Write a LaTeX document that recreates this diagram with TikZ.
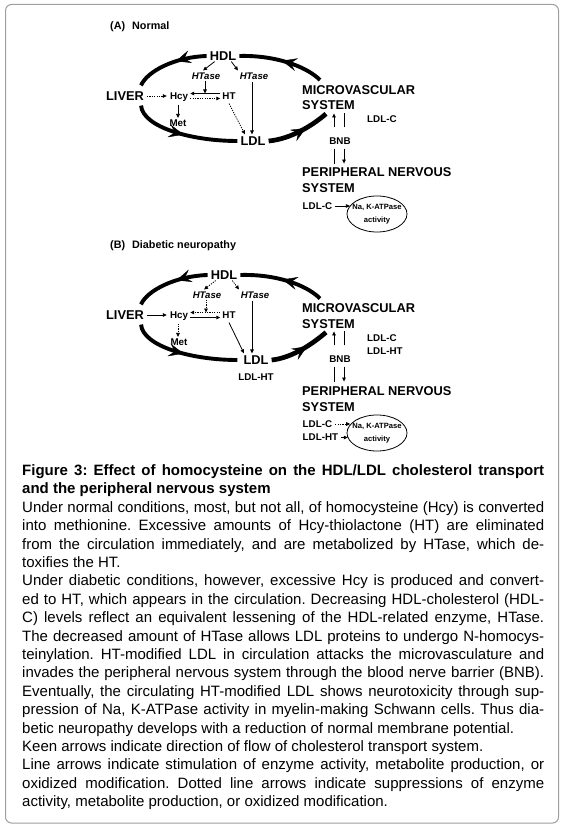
\documentclass[tikz,border=0pt]{standalone}
\usepackage{fontspec}
\setmainfont{Liberation Sans}
\usetikzlibrary{arrows.meta,decorations.markings,shapes.geometric,calc}
\newcommand\capj[1]{\hbox to 522pt{#1}}
\newcommand\capl[1]{\hbox{#1}}
\tikzset{
  big/.style={font=\fontsize{12.8}{15.5}\selectfont\bfseries, inner sep=0pt, text depth=0pt},
  mid/.style={font=\fontsize{9.8}{12.5}\selectfont\bfseries, inner sep=0pt, text depth=0pt},
  enz/.style={font=\fontsize{9.6}{12}\selectfont\bfseries\itshape, inner sep=0pt, text depth=0pt},
  ttl/.style={font=\fontsize{10.8}{12}\selectfont\bfseries, inner sep=0pt, anchor=west},
  nak/.style={ellipse, draw, line width=0.8pt, minimum width=60pt, minimum height=36pt, inner xsep=-8pt, inner ysep=0pt, align=center, font=\fontsize{7.6}{12.5}\selectfont\bfseries},
  ln/.style={-{Triangle[length=4pt,width=3.6pt]}, line width=0.8pt},
  dt/.style={ln, dash pattern=on 1.2pt off 1.2pt},
  plain/.style={line width=0.8pt},
  keen/.style={line width=3.9pt, postaction={decorate}, decoration={markings, mark=at position #1 with {\arrow{Stealth[length=15pt,width=13pt,inset=6pt,line width=0.4pt]}}}},
  keen/.default=0.5,
}
\begin{document}
\begin{tikzpicture}[x=1pt,y=-1pt]
\useasboundingbox (0,0) rectangle (564,832);
\draw[black!38, line width=1pt, rounded corners=6pt] (5.5,4.5) rectangle (558.5,823);

% ---------------- Panel A ----------------
\node[ttl] (tA) at (110,27) {(A)\hspace{4pt} Normal};
\node[big] (hdlA) at (223,56) {HDL};
\node[enz] (htlA) at (206,76) {HTase};
\node[enz] (htrA) at (254,76) {HTase};
\node[big] (livA) at (125,96) {LIVER};
\node[mid] (hcyA) at (179,96) {Hcy};
\node[mid] (htA) at (229,96) {HT};
\node[mid] (metA) at (178,123) {Met};
\node[big] (ldlA) at (253,141) {LDL};
\node[big, anchor=north west, align=left] (micA) at (302,85) {MICROVASCULAR\\SYSTEM};
\node[mid, anchor=west] (ldlcA) at (367,119) {LDL-C};
\node[mid] (bnbA) at (340,141) {BNB};
\node[big, anchor=north west, align=left] (pnsA) at (302,167.5) {PERIPHERAL NERVOUS\\SYSTEM};
\node[mid, anchor=west] (ldlc2A) at (302.5,206) {LDL-C};
\node[nak] (nakA) at (377,214) {Na, K-ATPase\\activity};

\draw[keen=0.42] ([shift={(-3,0)}]hdlA.west) .. controls +(-32,1) and +(6,-14) .. ([shift={(-3,-6)}]livA.north east);
\draw[keen] ([shift={(-3,5)}]livA.south east) .. controls +(2,22) and +(-45,0) .. ([shift={(-3,0)}]ldlA.west);
\draw[keen=0.62, line width=4.7pt] ([shift={(3,0)}]ldlA.east) .. controls +(22,-2) and +(-14,12) .. ([shift={(24,4)}]micA.south west);
\draw[keen] ([shift={(18,-5)}]micA.north west) .. controls +(-14,-14) and +(35,-1) .. ([shift={(3,0)}]hdlA.east);

\draw[ln] ([shift={(5,1)}]hdlA.south west) -- ([shift={(-3,-2)}]htlA.north);
\draw[ln] ([shift={(-5,1)}]hdlA.south east) -- ([shift={(-16,-2)}]htrA.north);
\draw[ln] ([shift={(-1,1)}]htlA.south) -- ($(htlA.south |- htA.west)+(-1,-2.5)$);
\draw[ln] ([shift={(-2,-2.5)}]htA.west) -- ([shift={(2,-2.5)}]hcyA.east);
\draw[dt] ([shift={(2,2.5)}]hcyA.east) -- ([shift={(-2,2.5)}]htA.west);
\draw[dt] ([shift={(3,0)}]livA.east) -- ([shift={(-3,0)}]hcyA.west);
\draw[ln] ([shift={(-1,5)}]hcyA.south) -- ([shift={(0,-1.5)}]metA.north);
\draw[dt] ([shift={(0,4)}]htA.south) -- ([shift={(-8,-2)}]ldlA.north);
\draw[ln] ([shift={(-2,2)}]htrA.south) -- ([shift={(-1,-2)}]ldlA.north);

\draw[ln] ([shift={(-6,-10)}]bnbA.north) -- ++(0,-14);
\draw[plain] ([shift={(4,-10)}]bnbA.north) -- ++(0,-14);
\draw[plain] ([shift={(-6,4)}]bnbA.south) -- ++(0,15);
\draw[ln] ([shift={(4,4)}]bnbA.south) -- ++(0,15);
\draw[ln] ([shift={(3,0)}]ldlc2A.east) -- (ldlc2A.east -| nakA.163);

% ---------------- Panel B ----------------
\node[ttl] (tB) at (110,246) {(B)\hspace{4pt} Diabetic neuropathy};
\node[big] (hdlB) at (224,275) {HDL};
\node[enz] (htlB) at (207,295) {HTase};
\node[enz] (htrB) at (255,295) {HTase};
\node[big] (livB) at (125,315) {LIVER};
\node[mid] (hcyB) at (179,315) {Hcy};
\node[mid] (htB) at (229,315) {HT};
\node[mid] (metB) at (179,342) {Met};
\node[big] (ldlB) at (256,360) {LDL};
\node[mid] (ldlhtB) at (256,377) {LDL-HT};
\node[big, anchor=north west, align=left] (micB) at (302,303.5) {MICROVASCULAR\\SYSTEM};
\node[mid, anchor=west] (ldlcB) at (367,338) {LDL-C};
\node[mid, anchor=west] (ldlhtmB) at (367,351) {LDL-HT};
\node[mid] (bnbB) at (340,359) {BNB};
\node[big, anchor=north west, align=left] (pnsB) at (302,386.5) {PERIPHERAL NERVOUS\\SYSTEM};
\node[mid, anchor=west] (ldlc2B) at (302.5,424) {LDL-C};
\node[mid, anchor=west] (ldlht2B) at (302.5,437.5) {LDL-HT};
\node[nak] (nakB) at (377,433) {Na, K-ATPase\\activity};

\draw[keen=0.42] ([shift={(-3,0)}]hdlB.west) .. controls +(-32,1) and +(6,-14) .. ([shift={(-3,-6)}]livB.north east);
\draw[keen] ([shift={(-3,5)}]livB.south east) .. controls +(2,22) and +(-45,0) .. ([shift={(-6,0)}]ldlB.west);
\draw[keen=0.62, line width=4.7pt] ([shift={(3,0)}]ldlB.east) .. controls +(20,-2) and +(-14,12) .. ([shift={(24,4)}]micB.south west);
\draw[keen] ([shift={(18,-5)}]micB.north west) .. controls +(-14,-14) and +(35,-1) .. ([shift={(3,0)}]hdlB.east);

\draw[dt] ([shift={(5,1)}]hdlB.south west) -- ([shift={(-3,-2)}]htlB.north);
\draw[dt] ([shift={(-5,1)}]hdlB.south east) -- ([shift={(-16,-2)}]htrB.north);
\draw[dt] ([shift={(-1,1)}]htlB.south) -- ($(htlB.south |- htB.west)+(-1,-2.5)$);
\draw[dt] ([shift={(-2,-2.5)}]htB.west) -- ([shift={(2,-2.5)}]hcyB.east);
\draw[ln] ([shift={(2,2.5)}]hcyB.east) -- ([shift={(-2,2.5)}]htB.west);
\draw[ln] ([shift={(3,0)}]livB.east) -- ([shift={(-3,0)}]hcyB.west);
\draw[dt] ([shift={(-1,5)}]hcyB.south) -- ([shift={(-1,-1.5)}]metB.north);
\draw[ln] ([shift={(0,4)}]htB.south) -- ([shift={(-12,-2)}]ldlB.north);
\draw[ln] ([shift={(-3,2)}]htrB.south) -- ([shift={(-4,-2)}]ldlB.north);

\draw[ln] ([shift={(-6,-10)}]bnbB.north) -- ++(0,-14);
\draw[plain] ([shift={(4,-10)}]bnbB.north) -- ++(0,-14);
\draw[plain] ([shift={(-6,4)}]bnbB.south) -- ++(0,15);
\draw[ln] ([shift={(4,4)}]bnbB.south) -- ++(0,15);
\draw[dt] ([shift={(3,0)}]ldlc2B.east) -- (ldlc2B.east -| nakB.162);
\draw[ln] ([shift={(3,0)}]ldlht2B.east) -- (ldlht2B.east -| nakB.190);

% ---------------- Caption ----------------
\node[anchor=north west, inner sep=0pt, font=\fontsize{15}{18.4}\selectfont] (cap) at (22,464.5) {\vbox{\frenchspacing\baselineskip=18.4pt\lineskiplimit=-20pt
\bfseries
\capj{Figure 3: Effect of homocysteine on the HDL/LDL cholesterol transport}
\capl{and the peripheral nervous system}
\mdseries
\capj{Under normal conditions, most, but not all, of homocysteine (Hcy) is converted}
\capj{into methionine. Excessive amounts of Hcy-thiolactone (HT) are eliminated}
\capj{from the circulation immediately, and are metabolized by HTase, which de-}
\capl{toxifies the HT.}
\capj{Under diabetic conditions, however, excessive Hcy is produced and convert-}
\capj{ed to HT, which appears in the circulation. Decreasing HDL-cholesterol (HDL-}
\capj{C) levels reflect an equivalent lessening of the HDL-related enzyme, HTase.}
\capj{The decreased amount of HTase allows LDL proteins to undergo N-homocys-}
\capj{teinylation. HT-modified LDL in circulation attacks the microvasculature and}
\capj{invades the peripheral nervous system through the blood nerve barrier (BNB).}
\capj{Eventually, the circulating HT-modified LDL shows neurotoxicity through sup-}
\capj{pression of Na, K-ATPase activity in myelin-making Schwann cells. Thus dia-}
\capl{betic neuropathy develops with a reduction of normal membrane potential.}
\capl{Keen arrows indicate direction of flow of cholesterol transport system.}
\capj{Line arrows indicate stimulation of enzyme activity, metabolite production, or}
\capj{oxidized modification. Dotted line arrows indicate suppressions of enzyme}
\capl{activity, metabolite production, or oxidized modification.}
}};
\end{tikzpicture}
\end{document}
